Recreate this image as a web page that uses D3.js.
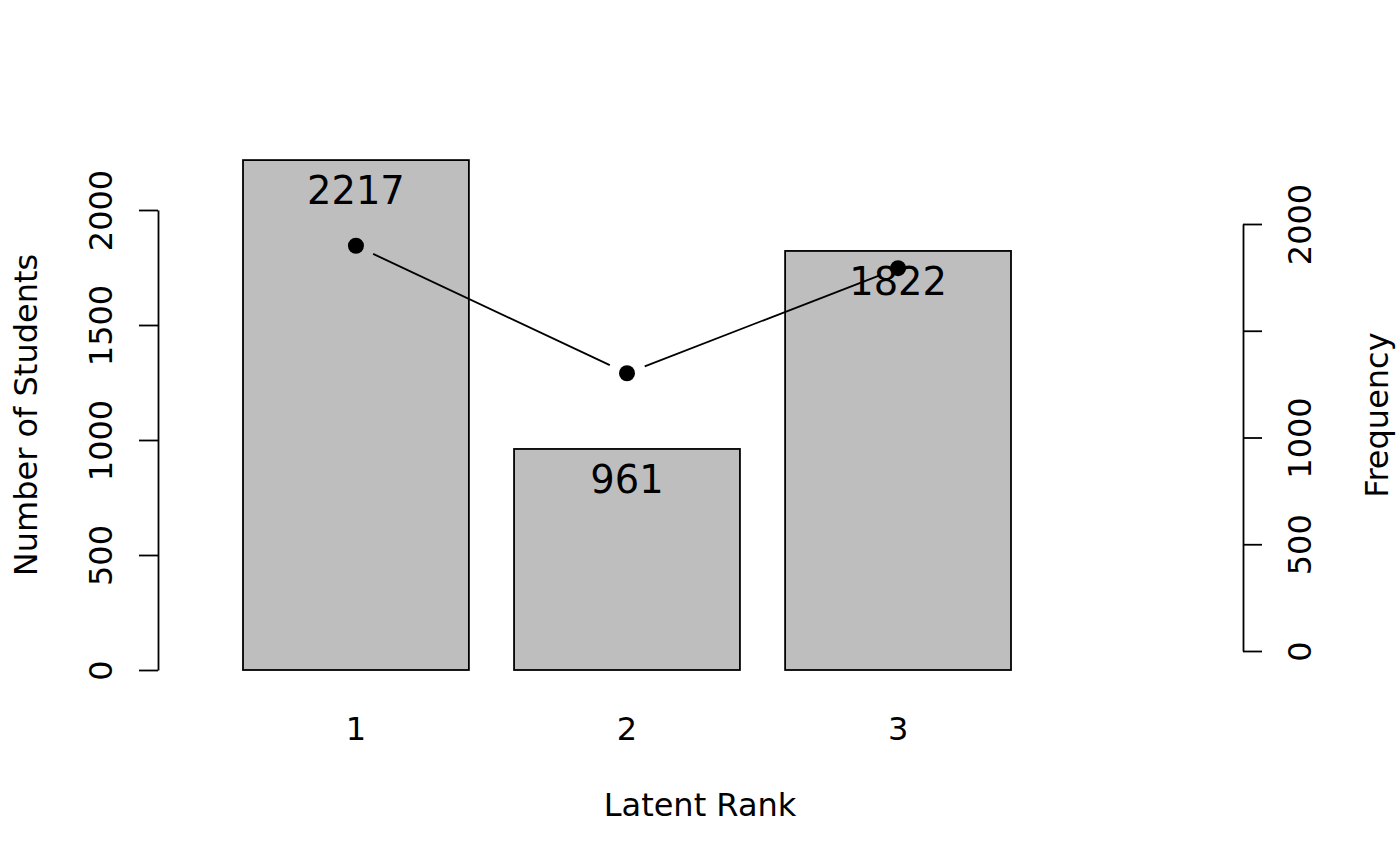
<!DOCTYPE html>
<html>
<head>
<meta charset="utf-8">
<script src="https://cdn.jsdelivr.net/npm/d3@7"></script>
<style>
  body { margin: 0; background: #fff; }
  text { font-family: 'DejaVu Sans', sans-serif; fill: #000; }
</style>
</head>
<body>
<div id="chart"></div>
<script>
const ranks = ['1', '2', '3']
const students = [2217, 961, 1822]
const frequency = [1898, 1301, 1793]
const leftTicks = [0, 500, 1000, 1500, 2000]
const rightTicks = [0, 500, 1000, 1500, 2000]
// R drops the 1500 label on the right axis (overlap)
const rightLabels = ['0', '500', '1000', '', '2000']

const width = 1400
const height = 866
const fontSize = 32
const lw = 1.8

const svg = d3
  .select('#chart')
  .append('svg')
  .attr('width', width)
  .attr('height', height)

// barplot user coords: bars of width 1 with 0.2 space
const x = d3.scaleLinear().domain([0.2, 3.6]).range([243, 1011])
const yLeft = d3.scaleLinear().domain([0, 2000]).range([670, 210])
const yRight = d3.scaleLinear().domain([0, 2000]).range([651, 224])

const barLeft = i => 0.2 + i * 1.2
const barMid = i => barLeft(i) + 0.5

// bars
svg
  .selectAll('.bar')
  .data(students)
  .enter()
  .append('rect')
  .attr('class', 'bar')
  .attr('x', (d, i) => x(barLeft(i)))
  .attr('width', (d, i) => x(barLeft(i) + 1) - x(barLeft(i)))
  .attr('y', d => yLeft(d))
  .attr('height', d => yLeft(0) - yLeft(d))
  .attr('fill', '#bebebe')
  .attr('stroke', '#000')
  .attr('stroke-width', lw)

// value labels inside the bars
svg
  .selectAll('.val')
  .data(students)
  .enter()
  .append('text')
  .attr('class', 'val')
  .attr('x', (d, i) => x(barMid(i)))
  .attr('y', d => yLeft(d) + 44)
  .attr('text-anchor', 'middle')
  .style('font-size', fontSize * 1.2 + 'px')
  .text(d => d)

// left axis
const gl = svg
  .append('g')
  .attr('transform', 'translate(158,0)')
  .call(d3.axisLeft(yLeft).tickValues(leftTicks).tickSizeOuter(0).tickSizeInner(19).tickFormat(d3.format('d')))
gl.selectAll('path, line').attr('stroke', '#000').attr('stroke-width', lw)
gl.selectAll('text')
  .attr('x', 0)
  .attr('y', -46)
  .attr('dy', null)
  .attr('transform', 'rotate(-90)')
  .attr('text-anchor', 'middle')
  .style('font-size', fontSize + 'px')
  .style('font-family', "'DejaVu Sans', sans-serif")

// right axis
const gr = svg
  .append('g')
  .attr('transform', 'translate(1243,0)')
  .call(d3.axisRight(yRight).tickValues(rightTicks).tickSizeOuter(0).tickSizeInner(19)
    .tickFormat((d, i) => rightLabels[i]))
gr.selectAll('path, line').attr('stroke', '#000').attr('stroke-width', lw)
gr.selectAll('text')
  .attr('x', 0)
  .attr('y', 68)
  .attr('dy', null)
  .attr('transform', 'rotate(-90)')
  .attr('text-anchor', 'middle')
  .style('font-size', fontSize + 'px')
  .style('font-family', "'DejaVu Sans', sans-serif")

// x tick labels (no axis line)
svg
  .selectAll('.xlab')
  .data(ranks)
  .enter()
  .append('text')
  .attr('class', 'xlab')
  .attr('x', (d, i) => x(barMid(i)))
  .attr('y', 740)
  .attr('text-anchor', 'middle')
  .style('font-size', fontSize + 'px')
  .text(d => d)

// frequency line, type "b": segments with gaps around the points
const pts = frequency.map((d, i) => [x(barMid(i)), yRight(d)])
const gap = 19
const segs = d3.pairs(pts).map(([a, b]) => {
  const dx = b[0] - a[0]
  const dy = b[1] - a[1]
  const len = Math.hypot(dx, dy)
  const ux = dx / len
  const uy = dy / len
  return [[a[0] + ux * gap, a[1] + uy * gap], [b[0] - ux * gap, b[1] - uy * gap]]
})
svg
  .selectAll('.seg')
  .data(segs)
  .enter()
  .append('line')
  .attr('class', 'seg')
  .attr('x1', d => d[0][0])
  .attr('y1', d => d[0][1])
  .attr('x2', d => d[1][0])
  .attr('y2', d => d[1][1])
  .attr('stroke', '#000')
  .attr('stroke-width', lw)

svg
  .selectAll('.pt')
  .data(pts)
  .enter()
  .append('circle')
  .attr('class', 'pt')
  .attr('cx', d => d[0])
  .attr('cy', d => d[1])
  .attr('r', 8)
  .attr('fill', '#000')

// axis titles
svg
  .append('text')
  .attr('transform', 'translate(37,415) rotate(-90)')
  .attr('text-anchor', 'middle')
  .style('font-size', fontSize + 'px')
  .text('Number of Students')

svg
  .append('text')
  .attr('transform', 'translate(1388,415) rotate(-90)')
  .attr('text-anchor', 'middle')
  .style('font-size', fontSize + 'px')
  .text('Frequency')

svg
  .append('text')
  .attr('x', 700)
  .attr('y', 816)
  .attr('text-anchor', 'middle')
  .style('font-size', fontSize + 'px')
  .text('Latent Rank')
</script>
</body>
</html>
